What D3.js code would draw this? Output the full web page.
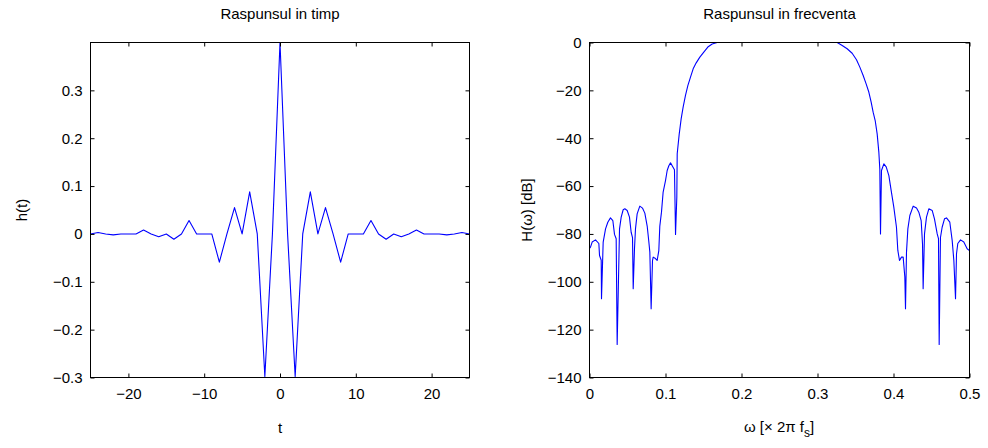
<!DOCTYPE html>
<html>
<head>
<meta charset="utf-8">
<script src="https://cdn.jsdelivr.net/npm/d3@7"></script>
<style>
  html, body { margin: 0; padding: 0; background: #fff; }
  svg text { font-family: "Liberation Sans", Arial, Helvetica, sans-serif; fill: #000; }
</style>
</head>
<body>
<svg id="chart" width="988" height="448"></svg>
<script>
// ---------- data ----------
const timeSamples = [-25,-24,-23,-22,-21,-20,-19,-18,-17,-16,-15,-14,-13,-12,-11,-10,-9,-8,-7,-6,-5,-4,-3,-2,-1,0,
  1,2,3,4,5,6,7,8,9,10,11,12,13,14,15,16,17,18,19,20,21,22,23,24,25];
const impulseValues = [0,0.003,0,-0.002,0,0,0,0.008,0,-0.006,0,-0.011,0,0.028,0,0,0,-0.059,0,0.055,0,0.088,0,-0.298,0,0.4,
  0,-0.298,0,0.088,0,0.055,0,-0.059,0,0,0,0.028,0,-0.011,0,-0.006,0,0.008,0,0,0,-0.002,0,0.003,0];

const freqValues = [0,0.0013,0.0035,0.0079,0.0123,0.0132,0.0154,0.0158,0.0180,0.0211,0.0241,0.0276,0.0307,0.0329,0.0351,0.0364,
  0.0395,0.0417,0.0443,0.0465,0.0496,0.0526,0.0548,0.0566,0.0575,0.0592,0.0605,0.0627,0.0662,0.0697,0.0728,0.0759,0.0781,0.0794,
  0.0811,0.0829,0.0838,0.0868,0.0890,0.0912,0.0925,0.0947,0.0969,0.1000,0.1022,0.1044,0.1066,0.1088,0.1118,0.1132,0.1149,0.1154,
  0.1180,0.1206,0.1232,0.1263,0.1294,0.1329,0.1364,0.1404,0.1452,0.1504,0.1557,0.1614,0.1680,0.25,0.3259,0.3325,0.3390,0.3456,
  0.3513,0.3557,0.3601,0.3640,0.3676,0.3706,0.3732,0.3759,0.3785,0.3807,0.3820,0.3829,0.3842,0.3873,0.3904,0.3939,0.3969,0.4004,
  0.4039,0.4057,0.4079,0.4105,0.4127,0.4149,0.4158,0.4171,0.4189,0.4215,0.4259,0.4303,0.4333,0.4364,0.4382,0.4390,0.4408,0.4434,
  0.4465,0.4509,0.4539,0.4575,0.4592,0.4601,0.4618,0.4640,0.4671,0.4697,0.4741,0.4772,0.4794,0.4816,0.4829,0.4846,0.4882,0.4925,
  0.4969,0.5];
const magnitudeDb = [-86,-85.5,-83.4,-82.5,-84,-89,-91,-107.1,-83.4,-77.9,-75.1,-73.3,-74.4,-80.2,-82,-126.2,
  -77.9,-73,-69.9,-69.5,-70.2,-73,-79.3,-81.5,-102.9,-86.2,-77.9,-71.6,-68.4,-69.2,-71.3,-76.7,-83.4,-87.6,
  -111.3,-91.1,-89.7,-90.3,-91.1,-87,-76.8,-70.9,-62.5,-57.7,-53.5,-51.5,-50.3,-51.5,-53.2,-80.2,-64.6,-46.5,
  -38.4,-31.9,-27,-22.1,-18,-14.5,-11,-8.5,-6.1,-4,-1.9,-0.6,0,0,0,-1.25,-2.6,-4.5,
  -7.2,-10.3,-13.8,-17.3,-20.8,-24.9,-29.1,-32.6,-38.2,-45.8,-53,-80,-53.5,-50.7,-52,-55.6,-61.8,-68.8,
  -77.2,-86.9,-91.1,-89.7,-89.7,-98,-111.3,-87.6,-77.9,-72.3,-68.4,-69.2,-70.9,-74.4,-84.3,-102.9,-80,-73,
  -69.5,-70.2,-73.7,-80,-82,-126.2,-81.5,-77.2,-73.7,-73.3,-75.1,-82.7,-91.1,-107.1,-88.3,-84,-82.5,-83.4,
  -86.2,-87];

const leftXTicks = [-20,-10,0,10,20];
const leftYTicks = [-0.3,-0.2,-0.1,0,0.1,0.2,0.3];
const rightXTicks = [0,0.1,0.2,0.3,0.4,0.5];
const rightYTicks = [-140,-120,-100,-80,-60,-40,-20,0];

// ---------- drawing ----------
const svg = d3.select("#chart");
svg.append("rect").attr("width", 988).attr("height", 448).attr("fill", "#fff");

const FS = 15;
const TICK = 4;
const fmt = d => d3.format("")(d).replace("-", "\u2212");

function panel(cfg) {
  const { x0, x1, y0, y1, xDom, yDom, xTicks, yTicks, xs, ys, title } = cfg;
  const x = d3.scaleLinear().domain(xDom).range([x0, x1]);
  const y = d3.scaleLinear().domain(yDom).range([y1, y0]);
  const g = svg.append("g");

  const clipId = "clip" + Math.round(x0);
  svg.append("clipPath").attr("id", clipId)
    .append("rect").attr("x", x0).attr("y", y0 - 1).attr("width", x1 - x0).attr("height", y1 - y0 + 2);

  const line = d3.line().x((d, i) => x(xs[i])).y((d, i) => y(ys[i]));
  g.append("path").datum(ys)
    .attr("clip-path", `url(#${clipId})`)
    .attr("d", line).attr("fill", "none").attr("stroke", "#0000ff").attr("stroke-width", 1.1)
    .attr("stroke-linejoin", "round");

  const axB = d3.axisBottom(x).tickValues(xTicks).tickSizeInner(-TICK).tickSizeOuter(0).tickPadding(11).tickFormat(fmt);
  const axT = d3.axisTop(x).tickValues(xTicks).tickSizeInner(-TICK).tickSizeOuter(0).tickFormat("");
  const axL = d3.axisLeft(y).tickValues(yTicks).tickSizeInner(-TICK).tickSizeOuter(0).tickPadding(8).tickFormat(fmt);
  const axR = d3.axisRight(y).tickValues(yTicks).tickSizeInner(-TICK).tickSizeOuter(0).tickFormat("");

  const gb = g.append("g").attr("transform", `translate(0,${y1})`).call(axB);
  const gt = g.append("g").attr("transform", `translate(0,${y0})`).call(axT);
  const gl = g.append("g").attr("transform", `translate(${x0},0)`).call(axL);
  const gr = g.append("g").attr("transform", `translate(${x1},0)`).call(axR);
  [gb, gt, gl, gr].forEach(a => {
    a.select(".domain").remove();
    a.selectAll("line").attr("stroke", "#000");
    a.selectAll("text").attr("font-size", FS).attr("font-family", '"Liberation Sans", Arial, sans-serif').attr("fill", "#000");
  });
  g.append("rect").attr("x", x0).attr("y", y0).attr("width", x1 - x0).attr("height", y1 - y0)
    .attr("fill", "none").attr("stroke", "#000").attr("stroke-width", 1);

  g.append("text").attr("x", (x0 + x1) / 2).attr("y", 19).attr("text-anchor", "middle")
    .attr("font-size", FS).text(title);
  return { g, x, y };
}

panel({ x0: 90.5, x1: 469.5, y0: 42.5, y1: 377.5, xDom: [-25, 25], yDom: [-0.3, 0.4],
  xTicks: leftXTicks, yTicks: leftYTicks, xs: timeSamples, ys: impulseValues, title: "Raspunsul in timp" });
panel({ x0: 589.5, x1: 969.5, y0: 42.5, y1: 377.5, xDom: [0, 0.5], yDom: [-140, 0],
  xTicks: rightXTicks, yTicks: rightYTicks, xs: freqValues, ys: magnitudeDb, title: "Raspunsul in frecventa" });

// axis labels
svg.append("text").attr("x", 280).attr("y", 433).attr("text-anchor", "middle").attr("font-size", FS).text("t");
svg.append("text").attr("transform", "translate(27,210) rotate(-90)").attr("text-anchor", "middle")
  .attr("font-size", FS).text("h(t)");
svg.append("text").attr("transform", "translate(532,210) rotate(-90)").attr("text-anchor", "middle")
  .attr("font-size", FS).text("H(\u03c9) [dB]");
const xl = svg.append("text").attr("x", 779).attr("y", 432).attr("text-anchor", "middle").attr("font-size", FS);
xl.append("tspan").text("\u03c9 [\u00d7 2\u03c0 f");
xl.append("tspan").attr("dy", 5).attr("font-size", 12).text("s");
xl.append("tspan").attr("dy", -5).text("]");
</script>
</body>
</html>
